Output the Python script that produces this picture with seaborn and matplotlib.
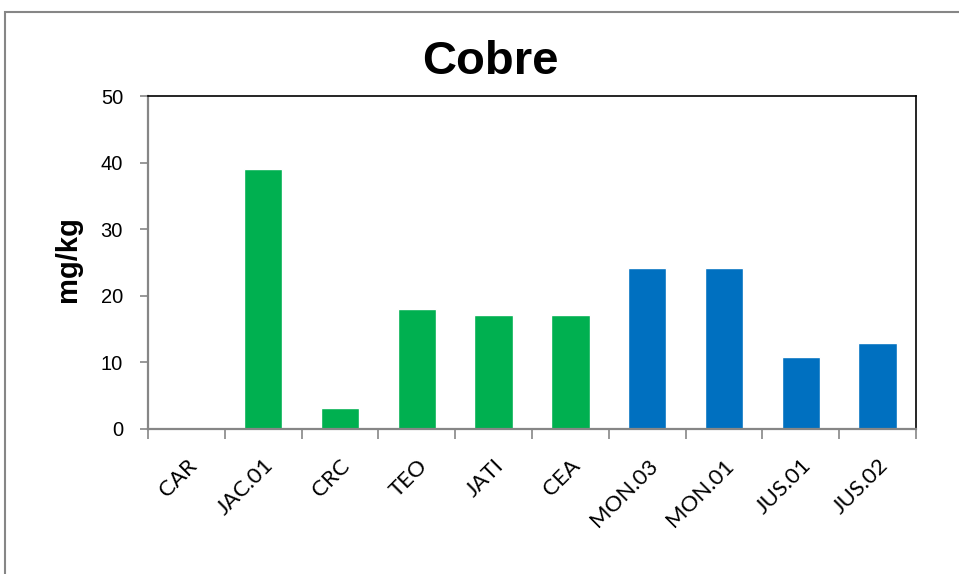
import matplotlib
matplotlib.use("Agg")
import matplotlib.pyplot as plt
import numpy as np
import pandas as pd
import seaborn as sns
from matplotlib.patches import Rectangle

# Copper concentration per sampling site
sites = ["CAR", "JAC.01", "CRC", "TEO", "JATI", "CEA",
         "MON.03", "MON.01", "JUS.01", "JUS.02"]
cobre = [0.0, 39.0, 3.2, 18.0, 17.1, 17.1, 24.2, 24.2, 10.8, 12.9]
grupo = ["A", "A", "A", "A", "A", "A", "B", "B", "B", "B"]
y_ticks = [0, 10, 20, 30, 40, 50]

colores = {"A": "#00B050", "B": "#0070C0"}

sns.set_theme(style="white")
plt.rcParams["font.family"] = ["Liberation Sans", "DejaVu Sans"]
plt.rcParams["text.color"] = "black"

df = pd.DataFrame({"site": sites, "cobre": cobre, "grupo": grupo})

W, H = 959, 574
fig = plt.figure(figsize=(W / 100, H / 100), dpi=100)
ax = fig.add_axes([148 / W, 1 - 429 / H, (916 - 148) / W, (429 - 96) / H])

sns.barplot(data=df, x="site", y="cobre", hue="grupo", palette=colores,
            dodge=False, width=0.5, legend=False, ax=ax, saturation=1)

n = len(sites)
ax.set_xlim(-0.5, n - 0.5)
ax.set_ylim(0, 50)
ax.set_yticks(y_ticks)
ax.set_yticklabels([str(v) for v in y_ticks], fontsize=14.5)
ax.set_xlabel("")
ax.set_ylabel("")

# category labels centred under bars, tick marks between categories
ax.set_xticks(range(n))
ax.set_xticklabels(sites, rotation=45, ha="right", rotation_mode="anchor",
                   fontsize=16, family=["Lato", "DejaVu Sans"])
ax.tick_params(axis="x", which="major", length=0, pad=19, labelcolor="black")
ax.set_xticks(np.arange(-0.5, n, 1.0), minor=True)
ax.tick_params(axis="x", which="minor", length=7, width=1.2,
               color="#868686", direction="out", bottom=True)
ax.tick_params(axis="y", which="major", length=6, width=1.2,
               color="#868686", direction="out", left=True, pad=12,
               labelcolor="black")

for side in ("top", "right"):
    ax.spines[side].set_color("black")
    ax.spines[side].set_linewidth(1.2)
for side in ("left", "bottom"):
    ax.spines[side].set_color("#868686")
    ax.spines[side].set_linewidth(1.6)
ax.spines["bottom"].set_zorder(5)

fig.text(490 / W, 1 - 62 / H, "Cobre", ha="center", va="center",
         fontsize=34, fontweight="bold", color="black")
fig.text(68 / W, 1 - 259 / H, "mg/kg", ha="center", va="center",
         rotation=90, fontsize=21, fontweight="bold", color="black")

# chart area frame
fig.patches.append(Rectangle((5 / W, -0.05), 1.2, 1 - 12 / H + 0.05,
                             transform=fig.transFigure, fill=False,
                             edgecolor="#868686", linewidth=1.5))

fig.savefig("out.png", dpi=100)
